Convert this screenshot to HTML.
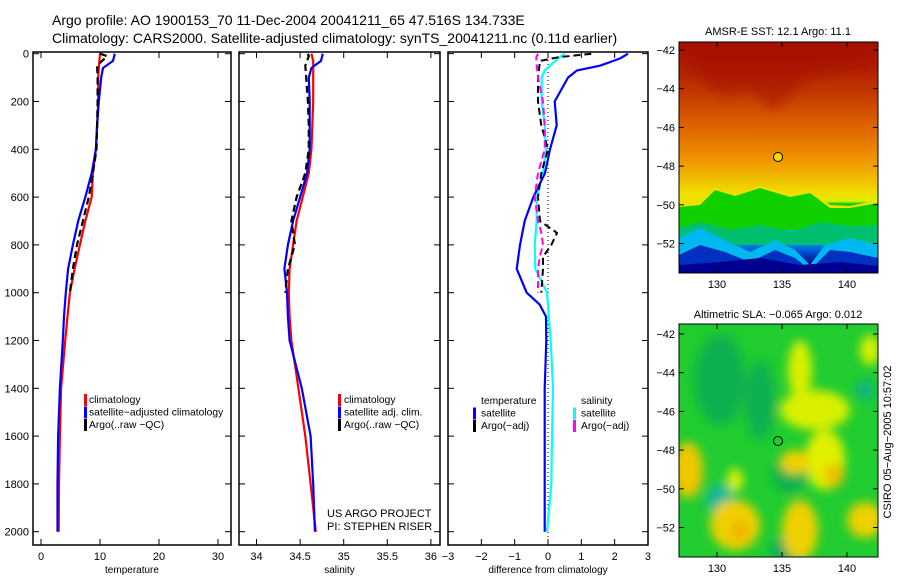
<!DOCTYPE html>
<html><head><meta charset="utf-8"><style>
body{margin:0;background:#fff;}
svg text{font-family:"Liberation Sans",sans-serif;fill:#000;}
</style></head><body>
<svg id="c" width="900" height="580" xmlns="http://www.w3.org/2000/svg">
<defs>
<linearGradient id="sstg" x1="0" y1="0" x2="0" y2="1">
<stop offset="0" stop-color="#a41000"/><stop offset="0.12" stop-color="#b02000"/>
<stop offset="0.25" stop-color="#c84000"/><stop offset="0.38" stop-color="#e06800"/>
<stop offset="0.50" stop-color="#f09000"/><stop offset="0.58" stop-color="#f0b800"/>
<stop offset="0.66" stop-color="#f0e000"/><stop offset="0.69" stop-color="#d8f000"/>
<stop offset="0.70" stop-color="#10d000"/>
<stop offset="0.78" stop-color="#00c060"/><stop offset="0.84" stop-color="#00c0f0"/>
<stop offset="0.90" stop-color="#0060d8"/><stop offset="0.95" stop-color="#0010a0"/>
<stop offset="1" stop-color="#000080"/></linearGradient>
<filter id="bl" x="-50%" y="-50%" width="200%" height="200%"><feGaussianBlur stdDeviation="5"/></filter>
<clipPath id="m1"><rect x="679" y="42" width="199" height="231"/></clipPath>
<clipPath id="m2"><rect x="679" y="324" width="199" height="233"/></clipPath>
<clipPath id="p1"><rect x="33" y="52" width="198" height="493"/></clipPath>
<clipPath id="p2"><rect x="239" y="52" width="201" height="493"/></clipPath>
<clipPath id="p3"><rect x="448" y="52" width="200" height="493"/></clipPath>
</defs>
<text x="52" y="25" font-size="14">Argo profile: AO 1900153_70 11-Dec-2004 20041211_65 47.516S 134.733E</text>
<text x="52" y="43" font-size="14">Climatology: CARS2000. Satellite-adjusted climatology: synTS_20041211.nc (0.11d earlier)</text>

<g>
<text x="778" y="35" font-size="11" text-anchor="middle">AMSR-E SST: 12.1 Argo: 11.1</text>
<g clip-path="url(#m1)">
<rect x="679" y="42" width="199" height="231" fill="url(#sstg)"/>
<path d="M679 42 L690 60 L705 85 L725 95 L750 90 L775 110 L790 95 L810 75 L840 70 L878 60 L878 42Z" fill="#a41000" opacity="0.5" filter="url(#bl)"/>
<path d="M679 198 L700 200 L715 188 L735 195 L760 186 L790 195 L810 190 L830 205 L850 206 L878 200 L878 210 L679 210Z" fill="#f0e000"/>
<path d="M679 207 L700 205 L715 190 L735 196 L760 188 L790 197 L810 193 L830 208 L850 208 L878 203 L878 230 L679 230Z" fill="#10d000"/>
<path d="M679 228 L700 222 L730 230 L760 225 L790 232 L820 222 L850 226 L878 225 L878 245 L679 245Z" fill="#00c070"/>
<path d="M679 238 L700 228 L725 240 L750 252 L775 240 L795 250 L810 265 L825 245 L850 238 L878 245 L878 273 L679 273Z" fill="#00b8f0"/>
<path d="M679 255 L700 245 L725 252 L750 262 L775 250 L795 258 L810 270 L830 250 L850 252 L878 258 L878 273 L679 273Z" fill="#0030c0"/>
<path d="M679 265 L720 262 L760 258 L800 265 L840 262 L878 266 L878 273 L679 273Z" fill="#000090"/>
</g>
<rect x="679" y="42" width="199" height="231" fill="none" stroke="#000"/>
<circle cx="778" cy="157" r="4.5" fill="#f0e000" stroke="#000"/>
</g>

<g>
<text x="778" y="318" font-size="11" text-anchor="middle">Altimetric SLA: −0.065 Argo: 0.012</text>
<g clip-path="url(#m2)">
<rect x="679" y="324" width="199" height="233" fill="#20cc30"/>
<g filter="url(#bl)">
<ellipse cx="720" cy="380" rx="25" ry="45" fill="#10b050"/>
<ellipse cx="760" cy="400" rx="15" ry="40" fill="#10b050"/>
<ellipse cx="720" cy="500" rx="14" ry="16" fill="#10b898"/>
<ellipse cx="865" cy="390" rx="8" ry="10" fill="#10b090"/>
<ellipse cx="790" cy="475" rx="18" ry="18" fill="#10b050"/>
<ellipse cx="790" cy="550" rx="20" ry="14" fill="#10a860"/>
<ellipse cx="800" cy="370" rx="12" ry="30" fill="#d8f000"/>
<ellipse cx="815" cy="410" rx="35" ry="20" fill="#d8f000"/>
<ellipse cx="825" cy="460" rx="20" ry="30" fill="#e0f000"/>
<ellipse cx="795" cy="462" rx="15" ry="12" fill="#f0d000"/>
<ellipse cx="834" cy="475" rx="10" ry="12" fill="#f0c000"/>
<ellipse cx="688" cy="470" rx="15" ry="28" fill="#f0c800"/>
<ellipse cx="735" cy="525" rx="25" ry="25" fill="#f0d000"/>
<ellipse cx="740" cy="530" rx="8" ry="10" fill="#f0b000"/>
<ellipse cx="800" cy="530" rx="18" ry="30" fill="#f0d000"/>
<ellipse cx="865" cy="520" rx="18" ry="18" fill="#f0d000"/>
<ellipse cx="735" cy="480" rx="8" ry="12" fill="#d8f000"/>
<ellipse cx="870" cy="350" rx="10" ry="15" fill="#d8f000"/>
</g>
</g>
<rect x="679" y="324" width="199" height="233" fill="none" stroke="#000"/>
<circle cx="778" cy="441" r="4.5" fill="none" stroke="#000"/>
</g>
<text transform="translate(891,442) rotate(-90)" font-size="11" text-anchor="middle">CSIRO 05−Aug−2005 10:57:02</text>
<text x="327" y="517" font-size="11">US ARGO PROJECT</text>
<text x="327" y="530" font-size="11">PI: STEPHEN RISER</text>
</svg>
<script>
// ---- data ----
const depthAll=[0,30,60,100,200,300,400,500,600,700,800,900,1000,1100,1200,1400,1600,1800,2000];
const tempClim=[10.0,9.9,9.8,9.7,9.7,9.5,9.3,8.8,8.6,7.5,6.6,5.7,4.9,4.5,4.1,3.4,3.2,3.05,3.0];
const tempSat=[12.5,12.2,10.5,10.2,9.8,9.5,9.3,8.6,7.5,6.3,5.4,4.6,4.2,3.9,3.7,3.2,2.9,2.8,2.8];
const depthArgo=[0,10,50,100,200,300,400,500,600,700,800,900,1000];
const tempArgo=[10.0,11.2,9.5,9.6,9.6,9.5,9.4,8.8,8.1,7.1,6.1,5.4,4.9];
const salClim=[34.63,34.65,34.65,34.65,34.65,34.64,34.63,34.6,34.53,34.46,34.42,34.38,34.37,34.38,34.40,34.48,34.56,34.62,34.68];
const salSat=[34.76,34.74,34.63,34.60,34.61,34.61,34.61,34.58,34.5,34.42,34.36,34.32,34.35,34.36,34.38,34.52,34.62,34.65,34.67];
const salArgo=[34.59,34.60,34.56,34.57,34.59,34.60,34.60,34.56,34.46,34.4,34.44,34.36,34.33];
const depthDiff=[0,20,50,70,100,200,300,400,500,600,700,800,900,1000,1050,1100,1200,1400,1600,1800,2000];
const dTempSat=[2.4,2.16,1.56,0.87,0.6,0.2,0.26,0.06,-0.09,-0.44,-0.7,-0.84,-0.94,-0.64,-0.25,-0.06,-0.05,-0.1,-0.1,-0.1,-0.1];
const dSalSat=[0.5,0.3,0.06,-0.1,-0.19,-0.19,-0.1,-0.06,-0.15,-0.34,-0.34,-0.4,-0.38,-0.03,0.0,0.02,0.08,0.15,0.12,0.1,-0.03];
const depthDiffArgo=[0,15,30,100,200,300,400,500,600,700,750,800,850,900,1000];
const dTempArgo=[1.3,0.3,-0.24,-0.3,-0.3,-0.2,0.0,-0.2,-0.3,-0.24,0.27,0.1,-0.15,-0.15,-0.2];
const dSalArgo=[-0.3,-0.35,-0.35,-0.3,-0.15,-0.1,-0.1,-0.3,-0.4,-0.3,-0.2,-0.15,-0.25,-0.3,-0.3];
const depthTicks=[0,200,400,600,800,1000,1200,1400,1600,1800,2000];
const tempTicks=[0,10,20,30];
const salTicks=[34,34.5,35,35.5,36];
const diffTicks=[-3,-2,-1,0,1,2,3];
const latTicks=[-42,-44,-46,-48,-50,-52];
const lonTicks=[130,135,140];
// ---- scales ----
const yD=d=>53.7+d*0.239;
const xT=v=>41+v*5.9;
const xS=v=>256.5+(v-34)*87.2;
const xDf=v=>548+v*33.33;
const NS="http://www.w3.org/2000/svg";
const svg=document.getElementById('c');
function mk(tag,at,parent){const e=document.createElementNS(NS,tag);for(const k in at)e.setAttribute(k,at[k]);(parent||svg).appendChild(e);return e;}
function panel(name,x0,x1,xs,ticks,label,labFmt,leftLabels,clip){
  const g=mk('g',{});
  
  
  const r=mk('rect',{x:x0,y:52,width:x1-x0,height:493,fill:'none',stroke:'#000','stroke-width':1.5},g);
  
  
  depthTicks.forEach(d=>{
    mk('line',{x1:x0,x2:x0+6,y1:yD(d),y2:yD(d),stroke:'#000'},g);
    mk('line',{x1:x1-6,x2:x1,y1:yD(d),y2:yD(d),stroke:'#000'},g);
    if(leftLabels){const t=mk('text',{x:x0-4,y:yD(d)+4,'font-size':11,'text-anchor':'end'},g);t.textContent=d;
      
      }
  });
  ticks.forEach(v=>{
    const x=xs(v);
    if(x>x0+1&&x<x1-1){mk('line',{x1:x,x2:x,y1:52,y2:58,stroke:'#000'},g);mk('line',{x1:x,x2:x,y1:539,y2:545,stroke:'#000'},g);}
    const t=mk('text',{x:x,y:560,'font-size':11,'text-anchor':'middle'},g);t.textContent=labFmt(v);
    
    
  });
  const l=mk('text',{x:(x0+x1)/2,y:573,'font-size':10,'text-anchor':'middle'},g);l.textContent=label;
  
  
  const cg=mk('g',{'clip-path':'url(#'+clip+')'},g);
  return cg;
}
function line(g,name,xs,vals,depths,color,w,dash){
  const p=mk('polyline',{points:vals.map((v,i)=>xs(v).toFixed(1)+','+yD(depths[i]).toFixed(1)).join(' '),fill:'none',stroke:color,'stroke-width':w,'stroke-linejoin':'round'},g);
  if(dash)p.setAttribute('stroke-dasharray',dash);
  
  
}
function legend(entries,bx,tx,y0){
  entries.forEach((e,i)=>{
    const y=y0+i*12.5;
    if(e[1]){const b=mk('rect',{x:bx,y:y-9,width:3,height:12,fill:e[1]});
      
      }
    const t=mk('text',{x:tx,y:y,'font-size':10.3});t.textContent=e[0];
    
    
  });
}
const g1=panel('temperature-panel',33,231,xT,tempTicks,'temperature',v=>v,true,'p1');
line(g1,'temp-climatology-line',xT,tempClim,depthAll,'#f00',2.2);
line(g1,'temp-satellite-line',xT,tempSat,depthAll,'#00f',2.2);
line(g1,'temp-argo-line',xT,tempArgo,depthArgo,'#000',2.2,'7,4');
const g2=panel('salinity-panel',239,440,xS,salTicks,'salinity',v=>v,false,'p2');
line(g2,'sal-climatology-line',xS,salClim,depthAll,'#f00',2.2);
line(g2,'sal-satellite-line',xS,salSat,depthAll,'#00f',2.2);
line(g2,'sal-argo-line',xS,salArgo,depthArgo,'#000',2.2,'7,4');
const g3=panel('difference-panel',448,648,xDf,diffTicks,'difference from climatology',v=>v<0?'−'+(-v):v,false,'p3');
const zl=mk('line',{x1:xDf(0),x2:xDf(0),y1:52,y2:545,stroke:'#000','stroke-dasharray':'1,3'},g3);


line(g3,'diff-sal-satellite-line',xDf,dSalSat,depthDiff,'#0ff',2.2);
line(g3,'diff-temp-satellite-line',xDf,dTempSat,depthDiff,'#00f',2.2);
line(g3,'diff-temp-argo-line',xDf,dTempArgo,depthDiffArgo,'#000',2,'7,4');
line(g3,'diff-sal-argo-line',xDf,dSalArgo,depthDiffArgo,'#f0f',2,'7,4');
legend([['climatology','#f00'],['satellite−adjusted climatology','#00f'],['Argo(..raw −QC)','#000']],84,89,403);
legend([['climatology','#f00'],['satellite adj. clim.','#00f'],['Argo(..raw −QC)','#000']],338,344,403);
legend([['temperature',null],['satellite','#00f'],['Argo(−adj)','#000']],473,481,404);
legend([['salinity',null],['satellite','#0ff'],['Argo(−adj)','#f0f']],573,581,404);
// map axes
function mapAxes(yTop,yBot,latY0){
  latTicks.forEach(v=>{
    const y=latY0+(-42-v)*19.35;
    mk('line',{x1:679,x2:684,y1:y,y2:y,stroke:'#000'});mk('line',{x1:873,x2:878,y1:y,y2:y,stroke:'#000'});
    const t=mk('text',{x:675,y:y+4,'font-size':11,'text-anchor':'end'});t.textContent='−'+(-v);
    
    
  });
  lonTicks.forEach(v=>{
    const x=717+(v-130)*13;
    mk('line',{x1:x,x2:x,y1:yTop,y2:yTop+5,stroke:'#000'});mk('line',{x1:x,x2:x,y1:yBot-5,y2:yBot,stroke:'#000'});
    const t=mk('text',{x:x,y:yBot+15,'font-size':11,'text-anchor':'middle'});t.textContent=v;
    
    
  });
}
mapAxes(42,273,50);
mapAxes(324,557,334);
</script>
</body></html>
